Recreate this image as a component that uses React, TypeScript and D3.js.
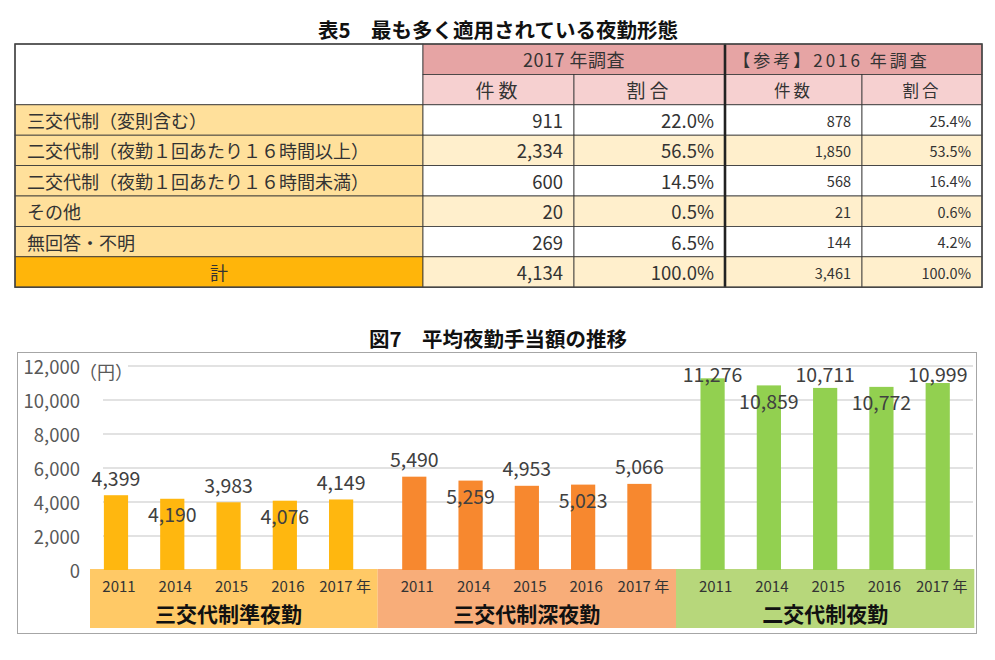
import React from "react";
import * as d3 from "d3";

// ---- table 5 data ----
const rowLabels = [
  "三交代制（変則含む）",
  "二交代制（夜勤１回あたり１６時間以上）",
  "二交代制（夜勤１回あたり１６時間未満）",
  "その他",
  "無回答・不明",
  "計",
];
const count2017 = [911, 2334, 600, 20, 269, 4134];
const pct2017 = [22.0, 56.5, 14.5, 0.5, 6.5, 100.0];
const count2016 = [878, 1850, 568, 21, 144, 3461];
const pct2016 = [25.4, 53.5, 16.4, 0.6, 4.2, 100.0];
const surveyHeaders = ["2017 年調査", "【参考】2016 年調査"];
const subHeaders = ["件数", "割合"];

// ---- figure 7 data ----
const shiftGroups = ["三交代制準夜勤", "三交代制深夜勤", "二交代制夜勤"];
const years = ["2011", "2014", "2015", "2016", "2017 年"];
const semiNight = [4399, 4190, 3983, 4076, 4149];
const deepNight = [5490, 5259, 4953, 5023, 5066];
const twoShift = [11276, 10859, 10711, 10772, 10999];
const yTicks = [0, 2000, 4000, 6000, 8000, 10000, 12000];

const FONT = "'Noto Sans CJK JP', 'Noto Sans', sans-serif";

function Table() {
  const colX = [15, 423, 574, 725, 862, 982];
  const top = 44;
  const rowH = 30.4;
  const rowY = (i: number) => top + rowH * i;
  const fmt = d3.format(",");
  const pfmt = (v: number) => v.toFixed(1) + "%";

  const cells: React.ReactNode[] = [];
  // header
  cells.push(
    <rect key="hblank" x={colX[0]} y={rowY(0)} width={colX[1] - colX[0]} height={rowH * 2} fill="#fff" stroke="#333" strokeWidth={0.8} />
  );
  surveyHeaders.forEach((h, k) => {
    const x0 = colX[1 + k * 2];
    const x1 = colX[3 + k * 2];
    // the 2016 header sits a little left of centre in the original
    const tx = k === 0 ? (x0 + x1) / 2 : (x0 + x1) / 2 - 22;
    cells.push(
      <g key={"h" + k}>
        <rect x={x0} y={rowY(0)} width={x1 - x0} height={rowH} fill="#E6A4A4" stroke="#333" strokeWidth={0.8} />
        <text x={tx} y={rowY(0) + rowH / 2} textAnchor="middle" dominantBaseline="central" fontSize={k === 0 ? 18 : 17} letterSpacing={k === 0 ? 0.5 : 3} fill="#333">{h}</text>
      </g>
    );
    subHeaders.forEach((s, j) => {
      const sx0 = colX[1 + k * 2 + j];
      const sx1 = colX[2 + k * 2 + j];
      cells.push(
        <g key={"s" + k + j}>
          <rect x={sx0} y={rowY(1)} width={sx1 - sx0} height={rowH} fill="#F6D0D0" stroke="#333" strokeWidth={0.8} />
          <text x={(sx0 + sx1) / 2} y={rowY(1) + rowH / 2} textAnchor="middle" dominantBaseline="central" fontSize={k === 0 ? 19 : 16.5} letterSpacing={k === 0 ? 4 : 3} fill="#333">{s}</text>
        </g>
      );
    });
  });

  rowLabels.forEach((label, i) => {
    const y = rowY(i + 2);
    const isTotal = i === rowLabels.length - 1;
    const dataFill = i % 2 === 1 || isTotal ? "#FFEFCC" : "#fff";
    const vals = [fmt(count2017[i]), pfmt(pct2017[i]), fmt(count2016[i]), pfmt(pct2016[i])];
    cells.push(
      <g key={"r" + i}>
        <rect x={colX[0]} y={y} width={colX[1] - colX[0]} height={rowH} fill={isTotal ? "#FFB50A" : "#FFE09B"} stroke="#333" strokeWidth={0.8} />
        <text
          x={isTotal ? (colX[0] + colX[1]) / 2 : 27}
          y={y + rowH / 2}
          textAnchor={isTotal ? "middle" : "start"}
          dominantBaseline="central"
          fontSize={18}
          fill="#333"
        >
          {label}
        </text>
        {vals.map((v, j) => (
          <g key={j}>
            <rect x={colX[j + 1]} y={y} width={colX[j + 2] - colX[j + 1]} height={rowH} fill={dataFill} stroke="#333" strokeWidth={0.8} />
            <text x={colX[j + 2] - 11} y={y + rowH / 2} textAnchor="end" dominantBaseline="central" fontSize={j < 2 ? 18.5 : 14.5} fill="#333">
              {v}
            </text>
          </g>
        ))}
      </g>
    );
  });

  return (
    <g>
      <text x={498} y={29} textAnchor="middle" dominantBaseline="central" fontSize={20.5} fontWeight="bold" fill="#111">
        表5　最も多く適用されている夜勤形態
      </text>
      {cells}
      <line x1={colX[3]} x2={colX[3]} y1={rowY(0)} y2={rowY(8)} stroke="#222" strokeWidth={2.6} />
      <rect x={colX[0]} y={rowY(0)} width={colX[5] - colX[0]} height={rowH * 8} fill="none" stroke="#444" strokeWidth={1.5} />
    </g>
  );
}

function Chart() {
  const series = [semiNight, deepNight, twoShift];
  const barColors = ["#FFB70F", "#F7882F", "#92D050"];
  const bandColors = ["#FFC966", "#F8AD79", "#B7D77B"];

  const y = d3.scaleLinear().domain([0, 12000]).range([570, 366]);
  const x0 = d3.scaleBand<string>().domain(shiftGroups).range([79.4, 974.3]).paddingInner(0);
  const x1 = d3.scaleBand<string>().domain(years).range([0, x0.bandwidth()]).paddingInner(0.57).paddingOuter(0.435);
  const fmt = d3.format(",");
  const labelTop = 373;

  return (
    <g>
      <text x={498} y={338} textAnchor="middle" dominantBaseline="central" fontSize={20.5} fontWeight="bold" fill="#111">
        図7　平均夜勤手当額の推移
      </text>
      <rect x={17.5} y={352.5} width={959} height={281} fill="#fff" stroke="#A6A6A6" strokeWidth={1} />
      {yTicks.map((t) => (
        <g key={t}>
          {t > 0 && <line x1={t === 12000 ? 128 : 103} x2={973} y1={y(t)} y2={y(t)} stroke="#D9D9D9" strokeWidth={1.5} />}
          <text x={80} y={y(t)} textAnchor="end" dominantBaseline="central" fontSize={18.5} fill="#595959">
            {fmt(t)}
          </text>
        </g>
      ))}
      <text x={79} y={y(12000) + 5} dominantBaseline="central" fontSize={18} fill="#595959">（円）</text>
      {shiftGroups.map((g, gi) => {
        const gx = x0(g)!;
        const bx = Math.max(gx, 90);
        return (
          <g key={g}>
            <rect x={bx} y={569} width={gx + x0.bandwidth() - bx} height={59} fill={bandColors[gi]} />
            {years.map((yr, i) => {
              const v = series[gi][i];
              const cx = gx + x1(yr)! + x1.bandwidth() / 2;
              const ly = i % 2 === 0 ? Math.max(y(v) - 18, labelTop) : y(v) + 15;
              return (
                <g key={yr}>
                  <rect x={gx + x1(yr)!} y={y(v)} width={x1.bandwidth()} height={y(0) - y(v)} fill={barColors[gi]} />
                  <text x={cx} y={ly} textAnchor="middle" dominantBaseline="central" fontSize={19.5} fill="#404040">
                    {fmt(v)}
                  </text>
                  <text x={cx + (i === 4 ? 4 : 3)} y={585} textAnchor="middle" dominantBaseline="central" fontSize={15} fill="#333">
                    {yr}
                  </text>
                </g>
              );
            })}
            <text x={gx + x0.bandwidth() / 2} y={613} textAnchor="middle" dominantBaseline="central" fontSize={21} fontWeight="bold" fill="#111">
              {g}
            </text>
          </g>
        );
      })}
    </g>
  );
}

export default function App() {
  return (
    <svg
      width={995}
      height={660}
      style={{ position: "absolute", left: 0, top: 0, background: "#fff" }}
      fontFamily={FONT}
    >
      <rect width={995} height={660} fill="#fff" />
      <Table />
      <Chart />
    </svg>
  );
}
